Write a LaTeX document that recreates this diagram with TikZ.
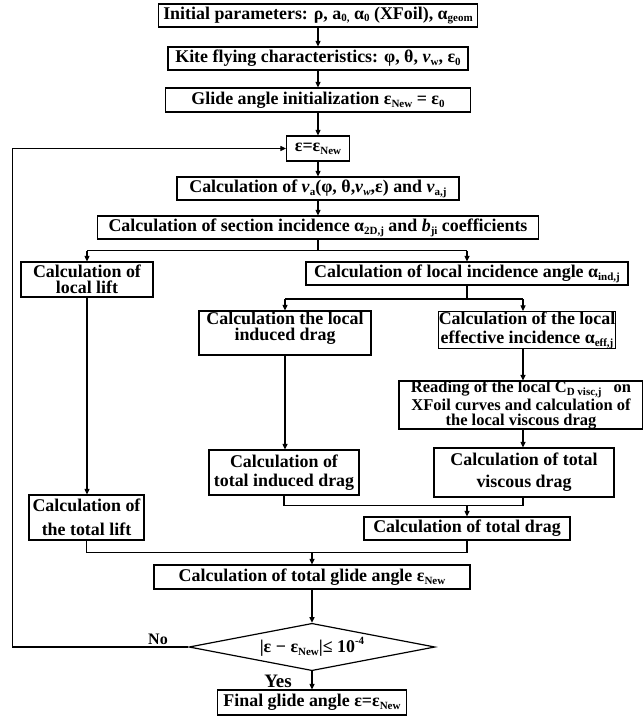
\documentclass[tikz,border=0pt]{standalone}
\usepackage{fontspec}
\setmainfont{Liberation Serif}
\usetikzlibrary{arrows.meta,shapes.geometric}
\newcommand\mysub[1]{\raisebox{-0.35ex}{\fontsize{11}{11}\selectfont #1}}
\newcommand\mysup[1]{\raisebox{0.9ex}{\fontsize{11}{11}\selectfont #1}}
\begin{document}
\begin{tikzpicture}[x=1pt,y=-1pt,
  box/.style={draw, line width=1.2pt, inner sep=0pt, align=center, font=\bfseries\fontsize{17.9}{20}\selectfont},
  sk14/.style={font=\bfseries\fontsize{17.9}{16.5}\selectfont},
  sk13/.style={font=\bfseries\fontsize{16.5}{15}\selectfont},
  sk20/.style={font=\bfseries\fontsize{17.9}{19}\selectfont},
  sk22/.style={font=\bfseries\fontsize{17.9}{22}\selectfont},
  sk24/.style={font=\bfseries\fontsize{17.9}{24}\selectfont},
  arr/.style={-{Triangle[length=5.5pt,width=5pt]}, line width=1.1pt},
  ln/.style={line width=1.1pt},
  lbl/.style={inner sep=0pt, font=\bfseries\fontsize{16}{16}\selectfont}]
\useasboundingbox (0,0) rectangle (642,719);

\node[box, minimum width=319, minimum height=23] (n1) at (318,15.5) {Initial parameters: ρ, a\mysub{0,} α\mysub{0} (XFoil), α\mysub{geom}};
\node[box, minimum width=300, minimum height=23] (n2) at (318,58.5) {Kite flying characteristics: φ, θ, \textit{ν}\mysub{w}, ε\mysub{0}};
\node[box, minimum width=305, minimum height=24] (n3) at (318,100) {Glide angle initialization ε\mysub{New} = ε\mysub{0}};
\node[box, minimum width=63, minimum height=25] (n4) at (318,148.5) {ε=ε\mysub{New}};
\node[box, minimum width=282, minimum height=23] (n5) at (318,188.5) {Calculation of \textit{ν}\mysub{a}(φ, θ,\textit{ν}\mysub{\textit{w}},ε) and \textit{ν}\mysub{a,j}};
\node[box, minimum width=441, minimum height=23] (n6) at (318,227.5) {Calculation of section incidence α\mysub{2D,j} and \textit{b}\mysub{ji} coefficients};

\node[box, sk14, minimum width=132, minimum height=35] (n7) at (87,279.5) {Calculation of\\local lift};
\node[box, minimum width=322, minimum height=23] (n8) at (467,273.5) {Calculation of local incidence angle α\mysub{ind,j}};
\node[box, sk14, minimum width=172, minimum height=44] (n9) at (285,333) {Calculation the local\\induced drag\\[-3pt]\mbox{}};
\node[box, sk20, minimum width=176, minimum height=37] (n10) at (527,330) {Calculation of the local\\effective incidence α\mysub{eff,j}};
\node[box, sk13, minimum width=244, minimum height=46] (n11) at (521,405) {Reading of the local C\mysub{D visc,j}\hspace{12pt}on\\XFoil curves and calculation of\\the local viscous drag};
\node[box, sk22, minimum width=180, minimum height=49] (n12) at (524,472.5) {Calculation of total\\viscous drag};
\node[box, sk20, minimum width=150, minimum height=45] (n13) at (284,472.5) {Calculation of\\total induced drag};
\node[box, sk24, minimum width=115, minimum height=45] (n14) at (86.5,517.5) {Calculation of\\the total lift};
\node[box, minimum width=206, minimum height=23] (n15) at (467,528.5) {Calculation of total drag};
\node[box, minimum width=316, minimum height=24] (n16) at (312,577) {Calculation of total glide angle ε\mysub{New}};
\node[box, diamond, aspect=5.2, minimum width=246, minimum height=47.4] (n17) at (312,647) {|ε − ε\mysub{New}|≤ 10\mysup{-4}};
\node[box, minimum width=189, minimum height=25] (n18) at (312,702.5) {Final glide angle ε=ε\mysub{New}};

\node[lbl] (no) at (158,639) {No};
\node[lbl, font=\bfseries\fontsize{19}{19}\selectfont] (yes) at (278,681.7) {Yes};

\draw[arr] (n1.south) -- (n2.north);
\draw[arr] (n2.south) -- (n3.north);
\draw[arr] (n3.south) -- (n4.north);
\draw[arr] (n4.south) -- (n5.north);
\draw[arr] (n5.south) -- (n6.north);

\coordinate (s1) at (318,250.7);
\coordinate (bl) at (87,250.7);
\coordinate (br) at (467,250.7);
\draw[ln] (n6.south) -- (s1);
\draw[ln] (bl) -- (br);
\draw[arr] (bl) -- (n7.north);
\draw[arr] (br) -- (n8.north);

\coordinate (c2) at (467,299);
\coordinate (cl) at (285,299);
\coordinate (cr) at (523,299);
\draw[ln] (n8.south) -- (c2);
\draw[ln] (cl) -- (cr);
\draw[arr] (cl) -- (n9.north);
\draw[arr] (cr) -- (cr |- n10.north);
\draw[arr] (cr |- n10.south) -- (cr |- n11.north);
\draw[arr] (cr |- n11.south) -- (cr |- n12.north);
\draw[arr] (n9.south) -- (n9.south |- n13.north);
\draw[arr] (n7.south) -- (n7.south |- n14.north);

\coordinate (m1) at (467,505.7);
\draw[ln] (n13.south) |- (cr |- m1) -- (cr |- n12.south);
\draw[arr] (m1) -- (n15.north);

\coordinate (m2) at (312,552.7);
\draw[ln] (n14.south) |- (n15.south |- m2) -- (n15.south);
\draw[arr] (m2) -- (n16.north);
\draw[arr] (n16.south) -- (n17.north);
\draw[arr] (n17.south) -- (n18.north);

\coordinate (fb) at (12.7,647);
\draw[arr] (n17.west) -- (fb) |- (n4.west);
\end{tikzpicture}
\end{document}
